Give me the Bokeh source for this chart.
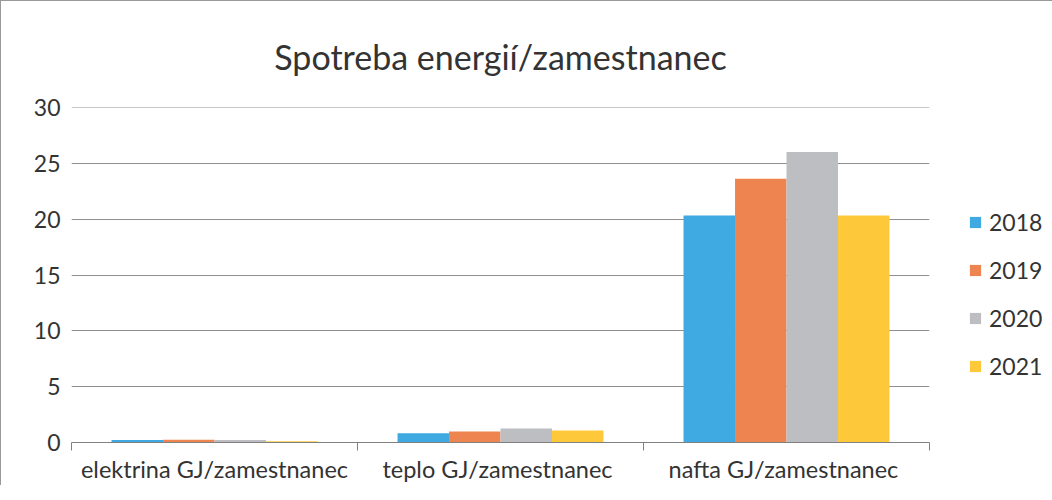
import numpy as np
from bokeh.plotting import figure
from bokeh.models import (ColumnDataSource, FixedTicker, Legend, LegendItem, Range1d)
from bokeh.embed import file_html
from bokeh.resources import INLINE

categories = ["elektrina GJ/zamestnanec", "teplo  GJ/zamestnanec", "nafta  GJ/zamestnanec"]
years = ["2018", "2019", "2020", "2021"]
v2018 = [0.22, 0.83, 20.35]
v2019 = [0.25, 0.98, 23.65]
v2020 = [0.22, 1.25, 26.05]
v2021 = [0.12, 1.07, 20.35]
y_ticks = [0, 5, 10, 15, 20, 25, 30]

colors = ["#3fa9e2", "#ee8550", "#bdbec2", "#fdc93b"]
series = [v2018, v2019, v2020, v2021]
FONT = "Lato"

p = figure(width=1036, height=484, output_backend="svg", toolbar_location=None,
           x_range=Range1d(0, len(categories)), y_range=Range1d(0, 30.04),
           frame_width=858, frame_height=335,
           min_border_left=70, min_border_top=106, min_border_bottom=40, min_border_right=108)

p.title.text = "Spotreba energií/zamestnanec"
p.title.align = "center"
p.title.text_font = FONT
p.title.text_font_size = "34px"
p.title.text_font_style = "normal"
p.title.text_color = "#333333"
p.title.standoff = 62

centers = np.arange(len(categories)) + 0.5
bw = 0.18
offsets = [-1.5 * bw, -0.5 * bw, 0.5 * bw, 1.5 * bw]
renderers = []
for yr, vals, col, off in zip(years, series, colors, offsets):
    src = ColumnDataSource(dict(x=centers + off, top=vals))
    r = p.vbar(x="x", top="top", width=bw, source=src, fill_color=col, line_color=None)
    renderers.append(r)

# axes
p.xaxis.ticker = FixedTicker(ticks=list(centers), minor_ticks=list(range(len(categories) + 1)))
p.xaxis.major_label_overrides = {float(c): cat for c, cat in zip(centers, categories)}
p.xaxis.major_tick_line_color = None
p.xaxis.minor_tick_line_color = "#808080"
p.xaxis.minor_tick_out = 8
p.xaxis.minor_tick_in = 0
p.xaxis.axis_line_color = "#808080"
p.xaxis.major_label_text_font = FONT
p.xaxis.major_label_text_font_size = "23.5px"
p.xaxis.major_label_text_color = "#333333"
p.xaxis.major_label_standoff = 4

p.yaxis.ticker = FixedTicker(ticks=y_ticks)
p.yaxis.axis_line_color = None
p.yaxis.major_tick_line_color = None
p.yaxis.minor_tick_line_color = None
p.yaxis.major_label_text_font = FONT
p.yaxis.major_label_text_font_size = "23px"
p.yaxis.major_label_text_color = "#333333"
p.yaxis.major_label_standoff = 5

p.xgrid.grid_line_color = None
p.ygrid.grid_line_color = "#8f8f8f"
p.ygrid.grid_line_width = 1
p.outline_line_color = None

legend = Legend(items=[LegendItem(label=yr, renderers=[r]) for yr, r in zip(years, renderers)],
                location=(39, 62), label_text_font=FONT, label_text_font_size="23px",
                label_text_color="#333333", glyph_width=14, glyph_height=14,
                label_standoff=7, spacing=20, border_line_color=None, background_fill_alpha=0)
p.add_layout(legend, "right")

p.styles = {"border-top": "1px solid #999999", "border-left": "1px solid #999999"}

open("out.html", "w").write(file_html(p, INLINE))
